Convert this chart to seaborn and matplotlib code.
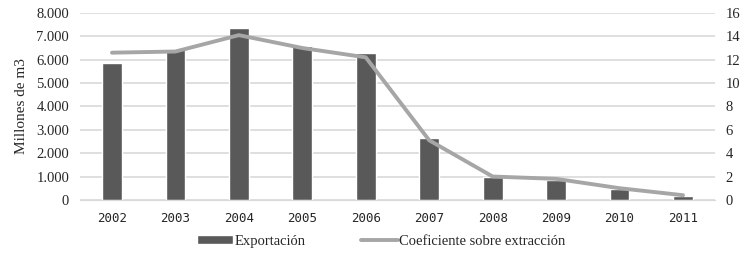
#!/usr/bin/env python3

import seaborn as sns
import matplotlib.pyplot as plt
import matplotlib.ticker as ticker
import pandas

years = ["2002", "2003", "2004", "2005", "2006", "2007", "2008", "2009", "2010", "2011"]
exportacion = [5850, 6450, 7350, 6600, 6300, 2650, 1000, 850, 450, 150]
coeficiente = [12.6, 12.7, 14.1, 13.0, 12.2, 5.1, 2.0, 1.8, 1.0, 0.4]


def main():
    sns.set_style("white")
    plt.rcParams["font.family"] = ["Liberation Serif", "DejaVu Serif"]

    df = pandas.DataFrame({"year": years, "exp": exportacion, "coef": coeficiente})
    df["pos"] = range(len(years))

    fig = plt.figure(figsize=(7.5, 2.54), dpi=100)
    ax = fig.add_axes([0.107, 0.213, 0.846, 0.736])

    sns.barplot(data=df, x="year", y="exp", color="#595959", saturation=1,
                width=0.31, ax=ax, label="Exportación", zorder=2)
    ax.set_ylim(0, 8000)
    ax.yaxis.set_major_locator(ticker.MultipleLocator(1000))
    ax.yaxis.set_major_formatter(
        ticker.FuncFormatter(lambda v, p: "{:,.0f}".format(v).replace(",", ".")))
    ax.grid(axis="y", color="#d9d9d9", linewidth=1.2, zorder=0)
    ax.set_axisbelow(True)
    ax.set_xlabel("")
    ax.set_ylabel("Millones de m3", fontsize=11, labelpad=6)
    ax.tick_params(axis="y", labelsize=10.5, length=0, pad=8)
    ax.tick_params(axis="x", length=0, pad=9)
    for lab in ax.get_xticklabels():
        lab.set_fontfamily("DejaVu Sans Mono")
        lab.set_fontsize(9)
    for s in ["top", "right", "left"]:
        ax.spines[s].set_visible(False)
    ax.spines["bottom"].set_color("#d9d9d9")
    ax.set_xlim(-0.5, len(years) - 0.5)

    ax2 = ax.twinx()
    sns.lineplot(data=df, x="pos", y="coef", color="#a6a6a6", linewidth=2.8,
                 ax=ax2, label="Coeficiente sobre extracción")
    ax2.set_ylim(0, 16)
    ax2.yaxis.set_major_locator(ticker.MultipleLocator(2))
    ax2.set_ylabel("")
    ax2.tick_params(axis="y", labelsize=10.5, length=0, pad=8)
    for s in ["top", "right", "left", "bottom"]:
        ax2.spines[s].set_visible(False)
    ax2.get_legend().remove()
    if ax.get_legend():
        ax.get_legend().remove()

    h1, l1 = ax.get_legend_handles_labels()
    h2, l2 = ax2.get_legend_handles_labels()
    fig.legend(h1 + h2, l1 + l2, loc="center", bbox_to_anchor=(0.508, 0.05),
               ncol=2, frameon=False, fontsize=10.5, columnspacing=3.8,
               handlelength=2.5, handleheight=0.5, handletextpad=0.1)

    fig.savefig("out.png", dpi=100)


if __name__ == "__main__":
    main()
